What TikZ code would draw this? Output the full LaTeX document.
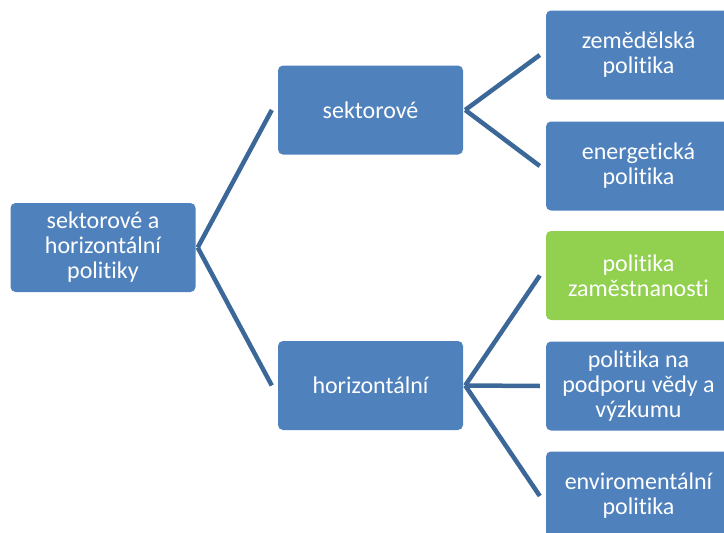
\documentclass[tikz,border=0pt]{standalone}
\usepackage{fontspec}
\setmainfont[Ligatures=NoCommon]{Carlito}
\usepackage{xcolor}
\definecolor{smblue}{RGB}{79,129,189}
\definecolor{smgreen}{RGB}{146,208,80}
\definecolor{smline}{RGB}{60,104,153}
\usetikzlibrary{positioning}

\begin{document}
\begin{tikzpicture}[x=1pt,y=-1pt,font=\fontsize{24}{25}\selectfont]
  \tikzset{box/.style={fill=smblue,text=white,rounded corners=5pt,minimum width=185pt,minimum height=89pt,align=center,inner sep=0pt},
           link/.style={smline,line width=4.5pt}}
  \useasboundingbox (0,0) rectangle (724,533);
  \clip (0,0) rectangle (724,533);
  \node[box] (root) at (103,247.5) {sektorové a\\horizontální\\politiky};
  \node[box] (sekt) at (370.5,110) {sektorové};
  \node[box] (horiz) at (370.5,385.5) {horizontální};
  \node[box] (zem) at (638.5,55) {zemědělská\\politika};
  \node[box] (ener) at (638.5,166) {energetická\\politika};
  \node[box,fill=smgreen] (zam) at (638.5,275.5) {politika\\zaměstnanosti};
  \node[box] (veda) at (638.5,386) {politika na\\podporu vědy a\\výzkumu};
  \node[box] (env) at (638.5,496) {enviromentální\\politika};
  % rozbocovaci body
  \coordinate (r0) at ([xshift=2pt]root.east);
  \coordinate (s0) at ([xshift=2pt]sekt.east);
  \coordinate (h0) at ([xshift=2pt]horiz.east);
  \draw[link] (r0)--([xshift=-6pt]sekt.west);
  \draw[link] (r0)--([xshift=-6pt]horiz.west);
  \draw[link] (s0)--([xshift=-6pt]zem.west);
  \draw[link] (s0)--([xshift=-6pt]ener.west);
  \draw[link] (h0)--([xshift=-6pt]zam.west);
  \draw[link] (h0)--([xshift=-6pt]veda.west);
  \draw[link] (h0)--([xshift=-6pt]env.west);
\end{tikzpicture}
\end{document}
